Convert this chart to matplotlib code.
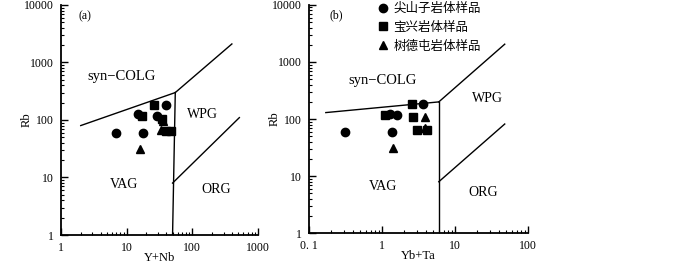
import matplotlib
matplotlib.use("Agg")
import matplotlib.pyplot as plt

plt.rcParams['font.family'] = ['Liberation Serif', 'DejaVu Serif']

# sample data: (a) Rb vs Y+Nb, (b) Rb vs Yb+Ta
series_names = ['尖山子岩体样品', '宝兴岩体样品', '树德屯岩体样品']

ynb_jsz = [7.0, 17.5, 14.7, 28.5, 40.0]
rb_a_jsz = [60, 60, 127, 117, 182]
ynb_bx = [25.7, 17.3, 35.0, 40.0, 47.0]
rb_a_bx = [182, 117, 103, 65, 64]
ynb_sdt = [16.0, 33.0, 35.5]
rb_a_sdt = [31, 67, 97]

ybta_jsz = [0.31, 1.37, 1.27, 1.6, 3.7]
rb_b_jsz = [60, 60, 121, 118, 185]
ybta_bx = [1.1, 2.6, 2.7, 3.0, 4.2]
rb_b_bx = [118, 185, 108, 65, 65]
ybta_sdt = [1.4, 3.9, 3.9]
rb_b_sdt = [31, 110, 70]

# Pearce (1984) discrimination boundaries
bounds_a = [([2, 55], [80, 300]),
            ([55, 400], [300, 2100]),
            ([50, 55], [1, 300]),
            ([50, 520], [8, 110])]
bounds_b = [([0.17, 6], [130, 200]),
            ([6, 48], [200, 2050]),
            ([6, 6], [1, 200]),
            ([6, 48], [8, 82])]

fig = plt.figure(figsize=(7, 2.65), dpi=100)
ax_a = fig.add_axes([0.0871, 0.1132, 0.2815, 0.868])
ax_b = fig.add_axes([0.4414, 0.1196, 0.3129, 0.862])


def style_axes(ax, xlim, xticks, xticklabels, xlabel, ylab_x):
    ax.set_xscale('log')
    ax.set_yscale('log')
    ax.set_xlim(*xlim)
    ax.set_ylim(1, 10000)
    for s in ['top', 'right']:
        ax.spines[s].set_visible(False)
    for s in ['left', 'bottom']:
        ax.spines[s].set_linewidth(1.3)
    ax.set_xticks(xticks)
    ax.set_xticklabels(xticklabels)
    ax.set_yticks([1, 10, 100, 1000, 10000])
    ax.set_yticklabels(['1', '10', '100', '1000', '10000'])
    ax.tick_params(which='major', direction='in', length=5, width=1,
                   labelsize=8.5, pad=5)
    ax.tick_params(which='minor', direction='in', length=2.5, width=0.8)
    ax.set_xlabel(xlabel, fontsize=9)
    ax.set_ylabel('Rb', fontsize=9)
    ax.xaxis.set_label_coords(0.5, -0.075)
    ax.yaxis.set_label_coords(ylab_x, 0.5)


style_axes(ax_a, (1, 1000), [1, 10, 100, 1000], ['1', '10', '100', '1000'],
           'Y+Nb', -0.145)
style_axes(ax_b, (0.1, 100), [0.1, 1, 10, 100], ['0. 1', '1', '10', '100'],
           'Yb+Ta', -0.13)

for bx, by in bounds_a:
    ax_a.plot(bx, by, color='black', lw=1)
for bx, by in bounds_b:
    ax_b.plot(bx, by, color='black', lw=1)

ms = 6
ax_a.plot(ynb_jsz, rb_a_jsz, 'o', color='black', ms=ms, ls='none')
ax_a.plot(ynb_bx, rb_a_bx, 's', color='black', ms=ms - 0.5, ls='none')
ax_a.plot(ynb_sdt, rb_a_sdt, '^', color='black', ms=ms, ls='none')

h1, = ax_b.plot(ybta_jsz, rb_b_jsz, 'o', color='black', ms=ms, ls='none')
h2, = ax_b.plot(ybta_bx, rb_b_bx, 's', color='black', ms=ms - 0.5, ls='none')
h3, = ax_b.plot(ybta_sdt, rb_b_sdt, '^', color='black', ms=ms, ls='none')

# field labels
fs = 10.5
ax_a.text(8.4, 560, 'syn−COLG', fontsize=fs, ha='center', va='center')
ax_a.text(142, 127, 'WPG', fontsize=fs - 0.5, ha='center', va='center')
ax_a.text(9, 7.7, 'VAG', fontsize=fs - 0.5, ha='center', va='center')
ax_a.text(230, 6.3, 'ORG', fontsize=fs - 0.5, ha='center', va='center')
ax_a.text(2.3, 6400, '(a)', fontsize=8.5, ha='center', va='center')

ax_b.text(1.03, 465, 'syn−COLG', fontsize=fs, ha='center', va='center')
ax_b.text(28, 225, 'WPG', fontsize=fs - 0.5, ha='center', va='center')
ax_b.text(1.03, 6.5, 'VAG', fontsize=fs - 0.5, ha='center', va='center')
ax_b.text(24, 5.1, 'ORG', fontsize=fs - 0.5, ha='center', va='center')
ax_b.text(0.24, 6700, '(b)', fontsize=8.5, ha='center', va='center')

ax_b.legend([h1, h2, h3], series_names, loc='upper left',
            bbox_to_anchor=(0.28, 1.045), frameon=False,
            prop={'family': ['Noto Sans CJK SC', 'DejaVu Sans'], 'size': 9},
            handletextpad=0.35, labelspacing=0.45, borderpad=0.1,
            handlelength=0.9, markerscale=1.0)

fig.savefig('out.png', dpi=100)
